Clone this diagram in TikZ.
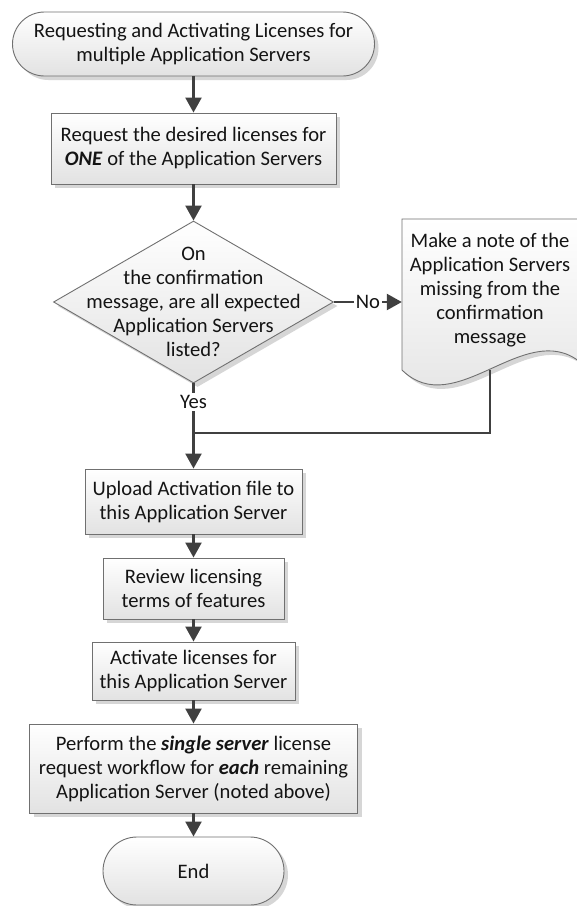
\documentclass[tikz,border=0pt]{standalone}
\usepackage{fontspec}
\setmainfont{Carlito}
\usetikzlibrary{shapes.geometric,shapes.misc,shadows,arrows.meta}
\definecolor{bordercol}{HTML}{707070}
\definecolor{linecol}{HTML}{404040}
\definecolor{shadecol}{HTML}{E2E2E2}
\definecolor{shadowcol}{HTML}{D6D6D6}
\definecolor{txtcol}{HTML}{141414}
\begin{document}
\begin{tikzpicture}[x=1pt,y=1pt,
 shapebase/.style={draw=bordercol, line width=0.9pt, top color=white, bottom color=shadecol,
   drop shadow={shadow xshift=4pt, shadow yshift=-4pt, fill=shadowcol, opacity=1},
   font=\fontsize{20.6}{24}\selectfont, text=txtcol, align=center, inner sep=0pt},
 procbox/.style={shapebase, rectangle},
 term/.style={shapebase, rounded rectangle},
 decision/.style={shapebase, diamond},
 txt/.style={font=\fontsize{20.6}{24}\selectfont, text=txtcol, align=center, inner sep=0pt},
 flow/.style={draw=linecol, line width=2.4pt, -{Triangle[length=15pt,width=16pt]}},
 plainflow/.style={draw=linecol, line width=2.4pt},
 lbl/.style={font=\fontsize{20.6}{24}\selectfont, text=txtcol, fill=white, inner sep=2pt}
]
\fill[white] (0,0) rectangle (577,-906);
\useasboundingbox (0,0) rectangle (577,-906);

% shapes
\node[term, minimum width=362, minimum height=64] (start) at (193.5,-44)
  {Requesting and Activating Licenses for\\multiple Application Servers};
\node[procbox, minimum width=285, minimum height=71] (box2) at (193.5,-148.5)
  {Request the desired licenses for\\\textbf{\textit{ONE}} of the Application Servers};
\node[decision, minimum width=280, minimum height=162] (dec) at (193.5,-302) {};
\node[txt] (dectext) at (dec.center)
  {On\\the confirmation\\message, are all expected\\Application Servers\\listed?};

% document shape
\path[draw=bordercol, line width=0.9pt, top color=white, bottom color=shadecol,
   drop shadow={shadow xshift=4pt, shadow yshift=-4pt, fill=shadowcol, opacity=1}]
  (402,-219) -- (580,-219) -- (580,-362) .. controls (525,-318) and (455,-422) .. (402,-370) -- cycle;
\node[minimum width=176, minimum height=151, inner sep=0pt] (doc) at (490,-294.5) {};
\node[txt] (doctext) at (490,-290.5)
  {Make a note of the\\Application Servers\\missing from the\\confirmation\\message};

\node[procbox, minimum width=217, minimum height=65] (box3) at (193.5,-501.5)
  {Upload Activation file to\\this Application Server};
\node[procbox, minimum width=181, minimum height=61] (box4) at (193.5,-588.5)
  {Review licensing\\terms of features};
\node[procbox, minimum width=203, minimum height=58] (box5) at (193.5,-671)
  {Activate licenses for\\this Application Server};
\node[procbox, minimum width=328, minimum height=89] (box6) at (193.5,-768.5)
  {Perform the \textbf{\textit{single server}} license\\request workflow for \textbf{\textit{each}} remaining\\Application Server (noted above)};
\node[term, minimum width=181, minimum height=68] (end) at (193.5,-871) {End};

\coordinate (junc) at (193.5,-433);

% connectors
\draw[flow] (start.south) -- (box2.north);
\draw[flow] (box2.south) -- (dec.north);
\draw[flow] (dec.east) -- node[lbl] (nolbl) {No} (dec.east -| doc.west);
\draw[flow] (dec.south) -- node[lbl, pos=0.22] (yeslbl) {Yes} (box3.north);
\draw[plainflow] (doc.south) |- (junc);
\draw[flow] (box3.south) -- (box4.north);
\draw[flow] (box4.south) -- (box5.north);
\draw[flow] (box5.south) -- (box6.north);
\draw[flow] (box6.south) -- (end.north);
\end{tikzpicture}
\end{document}
